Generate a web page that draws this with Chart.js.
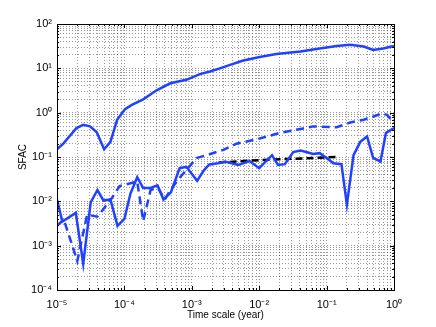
<!DOCTYPE html>
<html><head><meta charset="utf-8">
<script src="https://cdn.jsdelivr.net/npm/chart.js@4"></script>
<style>html,body{margin:0;padding:0;background:#fff}#wrap{width:436px;height:327px}</style>
</head><body><div id="wrap"><canvas id="c" width="436" height="327"></canvas></div>
<script>
// ---- data ----
const topX = [1e-5, 1.24e-5, 1.95e-5, 2.45e-5, 3.09e-5, 3.89e-5, 5.0e-5, 6.2e-5, 7.8e-5, 1.02e-4, 1.29e-4, 1.9e-4, 3.0e-4, 4.8e-4, 8.3e-4, 1.32e-3, 1.86e-3, 2.6e-3, 3.7e-3, 5.8e-3, 1.02e-2, 1.8e-2, 4.1e-2, 7.9e-2, 0.141, 0.224, 0.355, 0.49, 0.69, 1];
const topY = [0.15, 0.2, 0.45, 0.53, 0.49, 0.36, 0.15, 0.22, 0.69, 1.2, 1.5, 2.0, 3.2, 4.6, 5.5, 7.4, 8.5, 10, 12, 15, 18, 21, 24, 28, 32, 34, 31, 26, 28, 32];

const lowX = [1e-5, 1.2e-5, 1.9e-5, 2.45e-5, 3.16e-5, 3.98e-5, 4.9e-5, 6.2e-5, 7.9e-5, 1e-4, 1.23e-4, 1.55e-4, 1.9e-4, 2.45e-4, 3.1e-4, 3.8e-4, 4.9e-4, 6.6e-4, 8.3e-4, 1.2e-3, 1.51e-3, 1.82e-3, 2.45e-3, 3.1e-3, 4.9e-3, 7.2e-3, 1e-2, 1.55e-2, 1.9e-2, 2.4e-2, 3.2e-2, 4.1e-2, 5e-2, 6.3e-2, 7.9e-2, 0.105, 0.126, 0.166, 0.2, 0.251, 0.316, 0.398, 0.49, 0.63, 0.76, 1];
const lowY = [0.011, 0.0035, 0.0055, 0.00039, 0.0095, 0.018, 0.0104, 0.011, 0.0028, 0.004, 0.015, 0.035, 0.02, 0.02, 0.023, 0.011, 0.016, 0.056, 0.06, 0.029, 0.05, 0.068, 0.072, 0.079, 0.066, 0.081, 0.056, 0.11, 0.066, 0.069, 0.129, 0.14, 0.13, 0.117, 0.122, 0.09, 0.072, 0.069, 0.0084, 0.11, 0.22, 0.29, 0.096, 0.079, 0.35, 0.45];

const dashX = [1e-5, 1.26e-5, 2e-5, 2.8e-5, 3.98e-5, 6.3e-5, 8.5e-5, 1.55e-4, 1.9e-4, 2.45e-4, 3.16e-4, 3.98e-4, 4.8e-4, 6.6e-4, 9.3e-4, 1.17e-3, 1.66e-3, 2.95e-3, 4.6e-3, 9.1e-3, 2.04e-2, 4.5e-2, 6.3e-2, 0.141, 0.224, 0.355, 0.49, 0.66, 0.79, 1];
const dashY = [0.0028, 0.0039, 0.00045, 0.005, 0.0045, 0.011, 0.022, 0.028, 0.0036, 0.018, 0.02, 0.011, 0.018, 0.034, 0.062, 0.095, 0.11, 0.145, 0.20, 0.25, 0.35, 0.44, 0.49, 0.47, 0.6, 0.69, 0.81, 0.97, 0.89, 0.58];

const refX = [2.5e-3, 1e-2, 0.145];
const refY = [0.075, 0.085, 0.10];

const xTickLabels = {'-5':'10⁻⁵','-4':'10⁻⁴','-3':'10⁻³','-2':'10⁻²','-1':'10⁻¹','0':'10⁰'};
const yTickLabels = {'-4':'10⁻⁴','-3':'10⁻³','-2':'10⁻²','-1':'10⁻¹','0':'10⁰','1':'10¹','2':'10²'};
const xTitle = 'Time scale (year)';
const yTitle = 'SFAC';

// ---- helpers ----
const pts = (xs, ys) => xs.map((x, i) => ({x: x, y: ys[i]}));
function logTicks(minExp, maxExp) {
  const t = [];
  for (let e = minExp; e <= maxExp; e++) {
    for (let s = 1; s <= 9; s++) {
      if (e === maxExp && s > 1) break;
      t.push({value: s * Math.pow(10, e)});
    }
  }
  return t;
}
function labelFor(map, v) {
  const e = Math.round(Math.log10(v));
  if (Math.abs(Math.log10(v) - e) < 1e-6 && map[String(e)] !== undefined) return map[String(e)];
  return '';
}
const BLUE = '#2041ff';
const FONT = 'Liberation Sans, Arial, Helvetica, sans-serif';

const framePlugin = {
  id: 'frame',
  afterDatasetsDraw(chart) {
    const {ctx, chartArea: a, scales} = chart;
    ctx.save();
    ctx.strokeStyle = '#000';
    ctx.lineWidth = 1;
    ctx.setLineDash([]);
    ctx.beginPath();
    scales.x.ticks.forEach(t => {
      const px = Math.round(scales.x.getPixelForValue(t.value)) + 0.5;
      const major = Math.abs(Math.log10(t.value) - Math.round(Math.log10(t.value))) < 1e-6;
      const L = major ? 4 : 2;
      ctx.moveTo(px, a.bottom); ctx.lineTo(px, a.bottom - L);
      ctx.moveTo(px, a.top); ctx.lineTo(px, a.top + L);
    });
    scales.y.ticks.forEach(t => {
      const py = Math.round(scales.y.getPixelForValue(t.value)) + 0.5;
      const major = Math.abs(Math.log10(t.value) - Math.round(Math.log10(t.value))) < 1e-6;
      const L = major ? 4 : 2;
      ctx.moveTo(a.left, py); ctx.lineTo(a.left + L, py);
      ctx.moveTo(a.right, py); ctx.lineTo(a.right - L, py);
    });
    ctx.stroke();
    ctx.strokeRect(Math.round(a.left) + 0.5, Math.round(a.top) + 0.5, Math.round(a.right - a.left), Math.round(a.bottom - a.top));
    ctx.restore();
  }
};

new Chart(document.getElementById('c'), {
  type: 'line',
  data: {
    datasets: [
      {data: pts(topX, topY), borderColor: BLUE, borderWidth: 2.5},
      {data: pts(dashX, dashY), borderColor: BLUE, borderWidth: 2.5, borderDash: [8, 5]},
      {data: pts(lowX, lowY), borderColor: BLUE, borderWidth: 2.5},
      {data: pts(refX, refY), borderColor: '#000', borderWidth: 2.5, borderDash: [7, 4]}
    ]
  },
  options: {
    responsive: false,
    devicePixelRatio: 1,
    animation: false,
    elements: {point: {radius: 0}, line: {tension: 0, fill: false}},
    layout: {padding: {top: 24, right: 42, left: 0, bottom: 0}},
    plugins: {legend: {display: false}, tooltip: {enabled: false}},
    scales: {
      x: {
        type: 'logarithmic', min: 1e-5, max: 1,
        afterBuildTicks: s => { s.ticks = logTicks(-5, 0); },
        afterFit: s => { s.height = 37; },
        grid: {color: 'rgba(0,0,0,0.4)', lineWidth: 1, drawTicks: false},
        border: {display: false, dash: [1, 2]},
        ticks: {autoSkip: false, maxRotation: 0, padding: 8, color: '#000',
          font: {family: FONT, size: 11},
          callback: v => labelFor(xTickLabels, v)},
        title: {display: true, text: xTitle, color: '#000', font: {family: FONT, size: 10}, padding: {top: 0, bottom: 6}}
      },
      y: {
        type: 'logarithmic', min: 1e-4, max: 100,
        afterBuildTicks: s => { s.ticks = logTicks(-4, 2); },
        afterFit: s => { s.width = 57; },
        grid: {color: 'rgba(0,0,0,0.4)', lineWidth: 1, drawTicks: false},
        border: {display: false, dash: [1, 2]},
        ticks: {autoSkip: false, padding: 5, color: '#000',
          font: {family: FONT, size: 11},
          callback: v => labelFor(yTickLabels, v)},
        title: {display: true, text: yTitle, color: '#000', font: {family: FONT, size: 10}, padding: {top: 17, bottom: 0}}
      }
    }
  },
  plugins: [framePlugin]
});
</script>
</body></html>
